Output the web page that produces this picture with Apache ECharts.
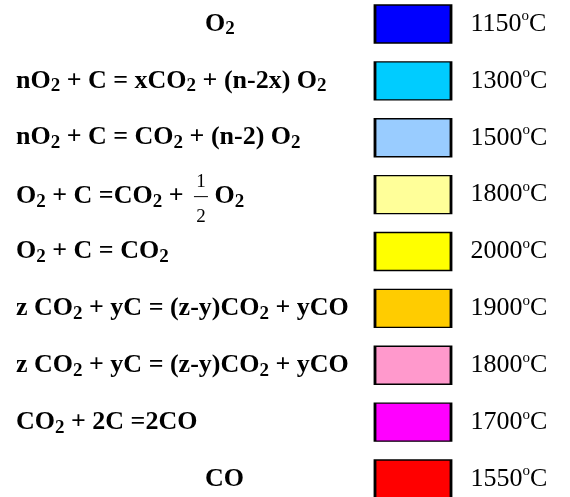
<!DOCTYPE html>
<html>
<head>
<meta charset="utf-8">
<script src="https://cdn.jsdelivr.net/npm/echarts@6/dist/echarts.min.js"></script>
<style>
html, body { margin: 0; padding: 0; background: #fff; }
#chart { width: 570px; height: 497px; }
</style>
</head>
<body>
<div id="chart"></div>
<script>
// 反应式：_2 = 下标, [1/2] = 分数
const equations = [
    'O_2',
    'nO_2 + C = xCO_2 + (n-2x) O_2',
    'nO_2 + C = CO_2 + (n-2) O_2',
    'O_2 + C =CO_2 + [1/2] O_2',
    'O_2 + C = CO_2',
    'z CO_2 + yC = (z-y)CO_2 + yCO',
    'z CO_2 + yC = (z-y)CO_2 + yCO',
    'CO_2 + 2C =2CO',
    'CO'
]
// 温度 (°C)
const temperatures = [1150, 1300, 1500, 1800, 2000, 1900, 1800, 1700, 1550]
// 色块
const boxColors = ['#0000FF', '#00CCFF', '#99CCFF', '#FFFF99', '#FFFF00', '#FFCC00', '#FF99CC', '#FF00FF', '#FF0000']

const SERIF = '"Liberation Serif", "Times New Roman", serif'
const MAIN_FONT = 'bold 26px ' + SERIF
const SUB_FONT = 'bold 19px ' + SERIF
const FRAC_FONT = '19px ' + SERIF
const BAR_W = 14
const BAR_GAP = 4

const ctx = document.createElement('canvas').getContext('2d')
const textWidth = (txt, font) => { ctx.font = font; return ctx.measureText(txt).width }

// 'CO_2 + C' -> '{b|CO}{s|2}{b| + C}'
const toTokens = (str, b = 'b', s = 's') => {
    let out = ''
    str.split(/_(\d)/).forEach((part, k) => {
        if (!part) return
        out += '{' + (k % 2 ? s : b) + '|' + part + '}'
    })
    return out
}
const tokensWidth = (str) => {
    let w = 0
    str.split(/_(\d)/).forEach((part, k) => {
        if (!part) return
        w += textWidth(part, k % 2 ? SUB_FONT : MAIN_FONT)
    })
    return w
}

// 分数的位置
const fracEq = equations.find(e => e.includes('['))
const fracPre = fracEq.split('[')[0]
const fracLead = tokensWidth(fracPre) + BAR_GAP + (BAR_W - textWidth('1', FRAC_FONT)) / 2

const eqLabel = (value) => {
    const m = value.match(/^(.*?)\[(\d)\/(\d)\](.*)$/)
    if (m) {
        return '{lead| }{num|' + m[2] + '}\n'
            + toTokens(m[1], 'bf', 'sf') + '{gap| }{bar| }' + toTokens(m[4], 'bf', 'sf') + '\n'
            + '{lead| }{den|' + m[3] + '}'
    }
    if (!value.includes('=')) {
        return '{ctr| }' + toTokens(value)
    }
    return toTokens(value)
}

const eqRich = {
    b: { fontFamily: SERIF, fontWeight: 'bold', fontSize: 26, lineHeight: 30, color: '#000' },
    s: { fontFamily: SERIF, fontWeight: 'bold', fontSize: 19, lineHeight: 20, verticalAlign: 'bottom', color: '#000' },
    // 分数那一行
    bf: { fontFamily: SERIF, fontWeight: 'bold', fontSize: 26, lineHeight: 14, color: '#000' },
    sf: { fontFamily: SERIF, fontWeight: 'bold', fontSize: 19, lineHeight: 4, padding: [10, 0, 0, 0], color: '#000' },
    ctr: { width: 189, fontSize: 10, lineHeight: 10 },
    lead: { width: fracLead, fontSize: 10, lineHeight: 10 },
    gap: { width: BAR_GAP, fontSize: 2, lineHeight: 2 },
    num: { fontFamily: SERIF, fontSize: 19, lineHeight: 25, padding: [9, 0, 0, 0], color: '#000' },
    den: { fontFamily: SERIF, fontSize: 19, lineHeight: 21, padding: [5, 0, 0, 0], color: '#000' },
    bar: { width: BAR_W, height: 1, lineHeight: 2, fontSize: 2, backgroundColor: '#000' }
}

const chart = echarts.init(document.getElementById('chart'))
chart.setOption({
    animation: false,
    grid: { left: 374, right: 118, top: 24, bottom: 18, outerBoundsMode: 'none' },
    xAxis: { type: 'category', data: ['box'], show: false },
    yAxis: {
        type: 'category',
        inverse: true,
        boundaryGap: false,
        data: equations,
        axisLine: { show: false },
        axisTick: { show: false },
        splitLine: { show: false },
        axisLabel: {
            interval: 0,
            align: 'left',
            margin: 358,
            formatter: eqLabel,
            rich: eqRich
        }
    },
    series: [
        {
            type: 'scatter',
            symbol: 'rect',
            symbolSize: [76, 38],
            data: temperatures.map((t, i) => ({ value: ['box', i, t], itemStyle: { color: boxColors[i] } })),
            itemStyle: { borderColor: '#000', borderWidth: 2, opacity: 1 },
            label: {
                show: true,
                position: 'right',
                distance: 18,
                formatter: (p) => '{t|' + p.value[2] + '}{o|o}{t|C}',
                rich: {
                    t: { fontFamily: SERIF, fontSize: 26, lineHeight: 30, color: '#000' },
                    o: { fontFamily: SERIF, fontSize: 15, verticalAlign: 'top', color: '#000' }
                }
            },
            emphasis: { disabled: true }
        }
    ]
})
</script>
</body>
</html>
